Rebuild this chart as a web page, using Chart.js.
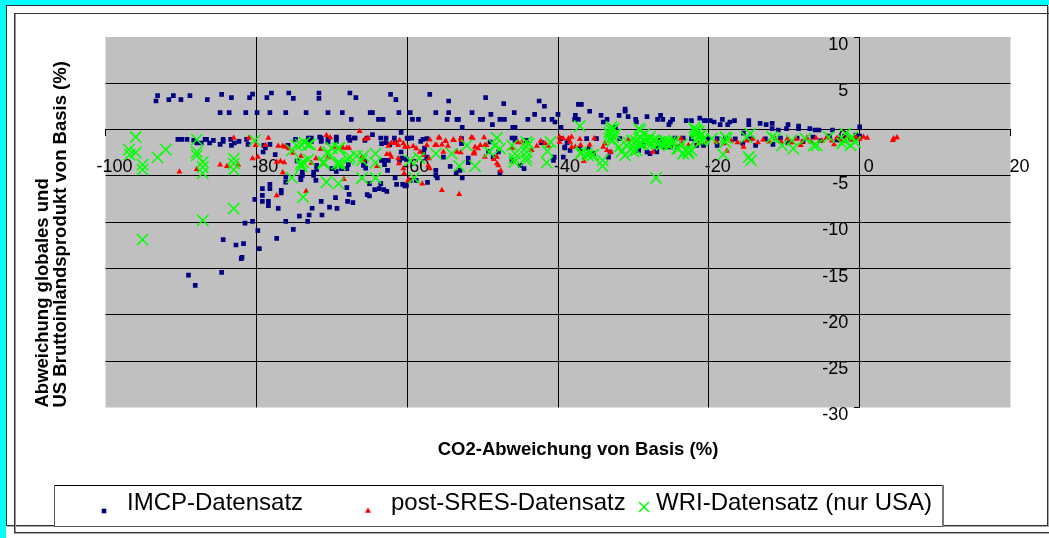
<!DOCTYPE html>
<html lang="de">
<head>
<meta charset="utf-8">
<title>CO2 und BIP</title>
<style>
    html, body { margin: 0; padding: 0; background: #fff; overflow: hidden; }
    #page { position: relative; width: 1049px; height: 538px; overflow: hidden; }
    .strip { position: absolute; background: #00ffff; }
    #frameOuter { position: absolute; left: 6px; top: 5px; width: 1040px; height: 519px; border: 1px solid #333; box-shadow: 1px 1px 0 #aaa; }
    #frameInner { position: absolute; left: 14px; top: 13px; width: 1100px; height: 518px; border: 1px solid #333; box-shadow: inset 1px 0 0 #999, 0 1px 0 #aaa; }
    canvas { position: absolute; left: 0; top: 0; }
</style>
<script src="https://cdn.jsdelivr.net/npm/chart.js@4/dist/chart.umd.js"></script>
</head>
<body>
<div id="page">
    <div class="strip" style="left:0;top:0;width:6px;height:538px"></div>
    <div class="strip" style="left:0;top:0;width:1049px;height:5px"></div>
    <div id="frameOuter"></div>
    <div id="frameInner"></div>
    <canvas id="chart" width="1049" height="538"></canvas>
</div>
<script>
const xTitleText = 'CO2-Abweichung von Basis (%)';
const yTitleLines = ['Abweichung globales und', 'US Bruttoinlandsprodukt von Basis (%)'];
const legendLabels = ['IMCP-Datensatz', 'post-SRES-Datensatz', 'WRI-Datensatz (nur USA)'];

const imcpPoints = [
    [-93.1,3.67],[-93.3,3.09],[-91.6,3.24],[-91,3.67],[-90,3.24],[-88.8,3.67],[-86.5,3.24],[-84.6,3.81],
    [-83.3,3.46],[-80.9,3.46],[-80.5,3.84],[-78.6,3.46],[-78,3.95],[-75.7,3.95],[-75.1,3.38],[-71.7,3.95],
    [-71.7,3.38],[-67.6,3.95],[-66.8,3.46],[-62.2,3.81],[-61.5,3.24],[-57,3.81],[-54.5,3.09],[-49.6,3.46],
    [-84.8,1.84],[-83.6,1.84],[-81.4,1.84],[-79.9,1.84],[-78.2,1.84],[-76.1,1.84],[-73.4,1.84],[-70.5,1.84],
    [-68.6,1.84],[-64.9,1.84],[-64.6,1.84],[-61.1,1.84],[-59.6,1.84],[-56.2,1.84],[-54.5,1.84],[-51.4,1.84],
    [-67.4,1.11],[-63.8,1.11],[-63.2,1.11],[-59.3,1.11],[-58.5,1.11],[-54.7,1.11],[-53.4,1.11],[-53.2,1.11],
    [-50.3,1.11],[-50,1.11],[-52.7,0.25],[-60.8,-0.29],
    [-47.2,2.81],[-42.5,3.09],[-41.8,2.52],[-48.9,1.65],[-45.8,1.84],[-43.1,1.65],[-40,1.65],[-47.7,1.11],
    [-47.1,1.11],[-44,1.11],[-41.9,1.11],[-40.8,1.11],[-40.4,0.82],[-48.7,0.54],[-46,0.25],[-45.7,0.25],[-39.6,0.25],
    [-37.3,2.73],[-36.9,2.73],[-35.8,1.98],[-37.7,1.54],[-37.8,1.11],[-37.3,1.11],[-34.3,1.54],[-31.9,1.54],
    [-31.1,2.22],[-31.1,1.98],[-30.7,1.4],[-33.5,1.11],[-34,0.82],[-32.4,0.25],[-29.7,1.11],[-29.6,0.82],
    [-28.2,1.4],[-26.8,1.11],[-26.4,1.54],[-26.1,1.11],[-24.8,1.11],[-25.3,0.54],[-25.1,0.82],[-23,0.97],
    [-22.3,0.97],[-21.2,1.25],[-20.6,0.97],[-20.3,0.97],[-19.8,0.97],[-19.3,0.82],[-18.2,1.11],[-18.5,0.54],
    [-17.5,0.54],[-17.2,0.82],[-16.6,0.97],[-14.7,0.97],[-14.7,0.54],[-13.2,0.68],[-12.4,0.54],[-11.6,0.68],
    [-11.6,0.11],[-10.8,-0.04],[-9.7,0.11],[-9.5,0.54],[-8.1,0.39],[-8.1,0.11],[-6.6,0.11],[-5.9,-0.04],
    [-5.4,-0.04],[-3.6,-0.04],[0,0.3],[-15.4,-0.37],
    [-81.5,-10.09],[-80.5,-9.9],[-80.2,-7.53],[-79.8,-10.91],[-79.6,-12.85],[-84.4,-11.88],[-82.7,-12.46],
    [-81.7,-12.31],[-82,-13.93],[-81.9,-13.8],[-89,-15.7],[-84.6,-15.41],[-88.1,-16.81],[-79.2,-6.37],
    [-79.2,-7.09],[-79.2,-7.74],[-78.4,-7.74],[-78.4,-8.21],[-78.2,-5.9],[-78.2,-6.37],[-77.1,-8.5],
    [-76.7,-6.55],[-76.7,-6.84],[-77.3,-11.74],[-76.1,-5.12],[-76.1,-5.66],[-76.1,-9.9],[-75.1,-10.77],
    [-74.3,-9.33],[-73.2,-9.9],[-73,-9.22],[-72.6,-8.49],[-71.3,-9.22],[-71.4,-7.74],[-70.3,-8.36],
    [-69.5,-7.34],[-69.3,-8.5],[-74.1,-5.12],[-74.1,-5.4],[-73.9,-4.58],[-73.9,-4.94],[-72.4,-4.58],
    [-72.4,-4.94],[-72.1,-5.48],[-77.5,-2.7],[-79,-1.7],[-78.2,-1.59],
    [-68,-6.26],[-67.7,-6.99],[-67.9,-7.74],[-65.3,-7.02],[-65,-7.17],[-64.3,-6.48],[-63.7,-6.37],[-63.5,-5.83],
    [-65,-5.83],[-63.1,-6.48],[-62.7,-6.66],[-67.2,-7.88],[-61.4,-5.91],[-60.6,-5.91],[-60.1,-6.01],[-61.6,-5.22],
    [-70,-4.21],[-69.6,-4.21],[-68.7,-4.21],[-68,-4.21],[-67.8,-3.78],[-69.4,-4.5],[-65.8,-3.86],[-65.5,-4.15],
    [-65.6,-3.42],[-72,-3.86],[-72,-4.29],[-63.4,-3.32],[-63,-3.32],[-62.5,-3.32],[-63,-3.78],[-62.6,-4.4],
    [-60.7,-3.07],[-61,-3.32],[-60.8,-2.42],[-60.1,-3.21],[-63.4,-1.51],[-62.8,-1.4],[-61.6,-1.4],[-62.3,-1.62],
    [-73.1,-0.9],[-72.7,-0.9],[-73.1,-1.26],[-72.7,-1.26],[-71.4,-0.9],[-71.4,-1.26],[-69.4,-0.9],[-69.4,-1.26],
    [-67.8,-0.9],[-67,-0.9],[-65.3,-0.9],[-64.6,-0.54],[-63.5,-0.9],[-62.8,-0.9],[-61.7,-0.9],[-60,-0.9],[-59.4,-0.9],
    [-65.6,-1.16],[-90.4,-1.05],[-89.9,-1.05],[-89.2,-1.05],[-88.3,-1.15],[-87.9,-1.44],[-87.3,-1.44],[-86.8,-1.05],
    [-86.6,-1.05],[-86.2,-1.44],[-85.7,-1.16],[-84.8,-1.59],[-84.4,-1.05],[-84.4,-1.26],[-83.4,-1.05],[-83.3,-1.7],
    [-82.9,-1.44],[-82.3,-1.26],[-81.3,-1.05],[-81.1,-1.59],[-74.8,-1.05],[-74.6,-3.39],[-71.6,-0.8],[-71.4,-1.16],
    [-70.5,-1.05],[-70.5,-1.33],[-69.4,-0.8],[-67.7,-0.8],[-67.6,-1.16],[-66.9,-0.9],[-79.1,-2.42],[-78.8,-1.98],[-75.8,-1.7],
    [-59.9,-0.97],[-59.4,-0.9],[-58.2,-1.26],[-57.9,-1.05],[-57.4,-0.97],[-57.7,-1.98],[-57.8,-2.42],[-57.4,-2.96],
    [-55.2,-2.96],[-54.3,-3.96],[-53.5,-4.64],[-53,-4.4],[-51.9,-3.07],[-51.9,-3.56],[-56.2,-4.4],[-56.2,-4.94],
    [-56,-5.22],[-57.3,-5.69],[-52.7,-5.22],[-59.6,-5.48],[-58.8,-5.48],[-60.3,-6.09],[-52.8,-1.51],[-52.8,-0.97],
    [-49.2,-2.34],[-48.6,-2.96],[-47.9,-2.42],[-47.7,-4.64],[-49,-1.34],[-46.1,-0.9],[-45.7,-0.9],[-46.1,-3.32],
    [-45,-3.86],[-44.5,-4.21],[-45.7,-1.16],[-44.2,-1.16],[-42.2,-1.4],[-40.6,-3.32],[-40.5,-2.96],[-39.3,-2.96],
    [-39.1,-1.98],[-38.8,-1.4],[-39.6,-0.97],
    [-36.2,-0.97],[-34.9,-0.97],[-39.1,-1.88],[-38.4,-2.24],[-37.1,-2.05],[-36,-2.05],[-35.3,-2.59],[-33.1,-2.42],
    [-33.3,-2.96],[-31.8,-0.97],[-28.2,-2.42],[-28.7,-1.7],[-29.3,-2.24],[-26.9,-2.05],[-26.5,-1.16],[-24.5,-0.9],
    [-23.4,-0.9],[-22.3,-0.97],[-20.1,-0.97],[-18.9,-0.97],[-17.8,-0.97],[-26,-1.88],[-25.1,-1.88],[-27.8,-2.59],
    [-24.2,-1.88],[-21.6,-1.7],[-20.7,-1.7],[-18.9,-1.7],[-26.9,-2.42],
    [-16.5,-1],[-15.5,-1.5],[-14.5,-1],[-13.8,-1.7],[-12.5,-1],[-11.5,-1.6],[-10.5,-0.9],[-9.5,-1.4],[-8.3,-0.9],
    [-7.5,-1.3],[-6.2,-0.8],[-5.2,-1.2],[-4,-0.7],[-3,-1.1],[-2,-0.7],[-1.2,-1],[-0.5,-0.6],[0,-0.7],[-0.3,-0.9]
];

const sresPoints = [
    [-90.2,-4.54],[-87.9,-4.29],[-84.8,-3.78],[-83.9,-3.96],[-82.4,-3.78],[-83,-0.91],[-81,-0.91],[-80.5,-3.13],
    [-79.8,-2.96],[-80.1,-1.7],[-78.4,-0.91],[-78.8,-1.7],[-77.1,-1.77],[-76.5,-1.77],[-76.2,-1.88],[-75.7,-2.05],
    [-75.1,-2.53],[-76.8,-3.42],[-76.3,-3.56],[-77.3,-3.5],[-76.5,-4.64],[-74.1,-2.88],[-72.7,-3.6],[-72.1,-3.13],
    [-73.4,-6.66],[-77.3,-7.1],[-70.7,-0.62],[-70.2,-0.86],[-71.5,-2.13],[-70.5,-3.02],[-71.1,-3.67],[-69.6,-1.88],
    [-68.5,-1.99],[-68,-1.99],[-67.7,-1.99],[-66.3,-0.18],[-65.6,-1.05],[-65.2,-0.91],[-68.4,-5.37],[-66,-2.96],
    [-65.8,-3.32],[-64,-3.96],[-62.5,-1.77],[-62.1,-1.45],[-61.6,-1.45],[-61.2,-1.7],[-61,-1.16],[-60.5,-1.51],
    [-60.3,-1.88],[-59.9,-1.88],[-59.2,-1.8],[-58.8,-2.05],[-58.3,-2.42],[-57.9,-2.78],[-57.4,-1.7],[-62.7,-2.67],
    [-62.3,-2.67],[-62.1,-2.96],[-61.2,-3.13],[-61.1,-3.67],[-60.4,-4.75],[-60.5,-4.21],[-59.9,-5.55],[-59.8,-5.37],
    [-55.4,-6.55],[-53.1,-6.99],[-57,-1.08],[-55.8,-0.86],[-54.9,-1.23],[-53.9,-1.08],[-52.8,-1.16],[-51.5,-0.86],
    [-49.8,-0.86],[-56.1,-1.7],[-53.4,-2.42],[-51.2,-2.53],[-51,-1.88],[-49.7,-1.7],
    [-58,-5.83],[-57.1,-3.13],[-57.2,-3.86],[-57,-4.21],[-56.3,-1.7],[-55.4,-1.62],[-54.6,-1.77],[-55.7,-0.91],
    [-54.9,-1.26],[-53.8,-1.16],[-52.9,-0.97],[-51.3,-0.91],[-55.2,-2.42],[-52.9,-2.48],[-51.1,-2.42],[-51.1,-2.6],
    [-50.3,-1.7],[-49.5,-1.7],[-50.6,-2.05],[-49.7,-2.96],[-48.5,-3.21],[-48.1,-2.96],[-48.1,-3.67],[-47.9,-3.86],
    [-47.6,-4.43],[-46.1,-1.98],[-45.3,-1.4],[-44.8,-1.4],[-43.5,-2.24],[-42.8,-1.77],[-42.3,-1.26],[-41.7,-1.51],
    [-41.3,-1.77],[-39.8,-0.8],[-39.3,-0.97],[-38.6,-0.97],[-39.8,-1.34],
    [-38.2,-0.8],[-38.4,-1.34],[-37.1,-1.05],[-38.2,-1.88],[-37.7,-1.88],[-37,-1.7],[-35.8,-1.62],[-35.2,-0.97],
    [-33.8,-1.51],[-34,-1.88],[-33.5,-2.24],[-33,-2.42],[-36.6,-3.42],[-32.6,-0.91],[-30.7,-1.08],[-27.4,-2.42],
    [-23.7,-0.97],[-23.6,-1.51],[-22.7,-1.7],[-21.4,-1.51],[-20.3,-1.34],[-17.6,-2.31],[-15.4,-1.88],
    [4.5,-0.97],[4.95,-0.86],[4.4,-1.16],
    [-19,-1.3],[-18,-1.5],[-17,-1.2],[-16.2,-1.4],[-15,-1.2],[-14.2,-1],[-13.5,-1.4],[-12.8,-1.1],[-12,-1.3],
    [-11.2,-1],[-10.4,-1.3],[-9.6,-1],[-9,-1.4],[-8.4,-1],[-7.6,-1.3],[-7,-0.9],[-6.4,-1.3],[-5.8,-0.9],[-5,-1.2],
    [-4.4,-0.9],[-3.7,-1.2],[-3,-0.9],[-2.4,-1.2],[-1.7,-0.8],[-1,-1.1],[-0.5,-0.8],[0,-1],[0.5,-0.8],[1,-0.9],
    [-3.4,-1.6],[-7.8,-1.7]
];

const wriPoints = [
    [-96,-0.8],[-96.9,-2.16],[-96.8,-2.7],[-96,-2.48],[-95.1,-3.78],[-95.1,-4.32],[-93.1,-2.99],[-92,-2.16],
    [-87.9,-1.08],[-87.9,-2.42],[-87.9,-2.78],[-87.1,-3.5],[-87.1,-4.04],[-87.1,-4.69],[-83,-3.13],[-83,-3.67],
    [-83,-4.32],[-80.2,-1.16],[-95.1,-11.88],[-87.1,-9.8],[-83,-8.53],[-75.3,-2.24],[-73.8,-7.28],[-75.3,-5.18],
    [-70.7,-5.66],[-69.1,-5.83],[-74.1,-1.62],[-73.1,-1.62],[-73.6,-1.4],[-74.1,-3.67],[-74,-3.93],[-73.1,-3.21],
    [-71.1,-3.67],[-70.6,-2.59],[-70,-1.99],[-69,-1.99],[-69,-3.56],[-69.3,-3.67],[-68.9,-3.78],[-67.8,-3.21],
    [-66.7,-2.85],[-65.8,-2.85],[-66,-3.32],[-64.2,-2.59],[-64.2,-3.56],[-66,-5.22],[-64.2,-5.22],
    [-74.7,-1.7],[-72.9,-1.6],[-70.5,-2.42],[-69.2,-2.05],[-73.8,-3.5],[-74,-3.96],[-67.6,-2.96],[-71.1,-3.5],
    [-59.1,-5.22],[-59.6,-3.32],[-58.4,-3.07],[-56.2,-2.59],[-54.1,-2.59],[-53.1,-3.93],[-51,-3.93],[-52.1,-1.7],
    [-49.1,-2.42],[-48.1,-0.91],[-48.4,-1.7],[-47.7,-2.05],[-46.1,-1.7],[-45.7,-2.59],[-45.8,-3.5],[-44.2,-1.34],
    [-44.2,-1.88],[-44.2,-2.42],[-44.2,-2.96],[-43.9,-1.51],[-44.2,-3.32],[-41.5,-3.56],[-41.4,-2.34],[-41,-1.34],
    [-37.1,0.39],[-37,-2.59],[-36,-2.78],[-35.3,-2.7],[-34.1,-3.32],[-34.1,-3.93],[-32.9,0.28],[-32.9,-0.07],
    [-33.1,-0.54],[-32.7,-0.8],[-33.2,-0.97],[-31.9,-1.88],[-31.1,-2.78],[-30,-2.34],[-29.3,0.11],[-29.3,-1.51],
    [-30.2,-1.16],[-29.1,-0.8],[-28.5,-0.43],[-28,-1.16],[-27.4,-1.16],[-26.5,-1.34],[-25.6,-1.51],[-25.1,-1.34],
    [-24.2,-2.05],[-23.1,-2.24],[-22.7,-2.59],[-22.3,-2.24],[-21.8,-0.07],[-21.6,-0.43],[-21.4,-0.8],[-21.8,-1.16],
    [-20.7,-0.97],[-19.6,-0.97],[-18.1,-2.7],[-17.8,-0.8],[-27,-5.22],
    [-14.7,-2.96],[-14.4,-3.32],[-17.6,-0.97],[-17.8,-1.34],[-15,-0.8],[-14.5,-0.43],[-11.6,-0.8],[-11.2,-0.97],
    [-10.3,-1.7],[-8.8,-2.05],[-9,-1.16],[-7.2,-0.97],[-6.1,-1.7],[-5.7,-1.7],[-4.1,-0.8],[-2.1,-1.16],[-1.9,-0.43],
    [-1,-0.8],[-0.6,-1.34],[-1.2,-1.7],[-2.3,-1.51],
    [-45.8,-3.13],[-36.9,-2.42],[-36.2,-2.59],[-35.5,-2.78],[-30.9,-1.7],[-29.6,-2.24],[-29.1,-0.07],[-28.7,-1.16],
    [-27.8,-0.8],[-27.1,-1.16],[-25.6,-1.34],[-24.9,-1.51],[-24,-2.05],[-22.7,-2.42],[-21.6,-0.07],
    [-32.6,0.1],[-33.2,-0.3],[-32.4,-0.5],[-32.8,-1.2],[-21.9,0.2],[-21.3,-0.2],[-21,-0.6],[-21.5,-1],[-20.9,-1.2],
    [-30.6,-1.4],[-29.7,-1.2],[-28.9,-1.5],[-28.2,-1.4],[-27.6,-1.6],[-26.9,-1.5],[-26.2,-1.6],[-25.9,-1.2],
    [-25.3,-1.7],[-24.6,-1.3],[-23.6,-1.6],[-30.4,-2.1],[-31.6,-2.4],[-23.4,-2.6],[-22.9,-2.2]
];

const toXY = (p) => ({ x: p[0], y: p[1] });

// grey plot background, behind the grid
const plotBackground = {
    id: 'plotBackground',
    // the x title is not centred on the plot in the original
    afterLayout(chart) {
        chart.scales.xTitleAxis.left += 40;
    },
    beforeDraw(chart) {
        const a = chart.chartArea;
        chart.ctx.save();
        chart.ctx.fillStyle = '#c0c0c0';
        chart.ctx.fillRect(a.left, a.top, a.right - a.left, a.bottom - a.top);
        chart.ctx.restore();
    }
};

// the legend columns in the original are not evenly spaced, so it is drawn here
const legendBox = {
    id: 'legendBox',
    afterDraw(chart) {
        const ctx = chart.ctx;
        ctx.save();
        ctx.fillStyle = '#fff';
        ctx.fillRect(54, 485, 890, 42);
        ctx.fillStyle = '#000';
        ctx.fillRect(54, 485, 890, 1);
        ctx.fillStyle = '#555';
        ctx.fillRect(54, 485, 1, 42);
        ctx.fillRect(54, 526, 890, 1);
        ctx.fillStyle = '#777';
        ctx.fillRect(942, 485, 2, 42);

        const textX = [127, 391, 656];
        const markerX = [104, 368, 644];
        const markerY = [511, 511, 507];
        ctx.font = '24px "Liberation Sans", Arial, sans-serif';
        ctx.textBaseline = 'middle';
        chart.data.datasets.forEach((ds, i) => {
            ctx.fillStyle = '#000';
            ctx.fillText(ds.label, textX[i], 503);
            ctx.fillStyle = ds.pointBackgroundColor;
            ctx.strokeStyle = ds.pointBorderColor;
            ctx.lineWidth = ds.pointBorderWidth;
            Chart.helpers.drawPoint(ctx, {
                pointStyle: ds.pointStyle,
                radius: Math.min(ds.pointRadius, 7),
                borderWidth: ds.pointBorderWidth,
                rotation: 0
            }, markerX[i], markerY[i]);
        });
        ctx.restore();
    }
};

const gridColor = (lo, hi) => (c) => (c.tick.value <= lo || c.tick.value >= hi) ? 'rgba(0,0,0,0)' : '#000';
const noSize = (s) => { if (s.isHorizontal()) { s.height = 0; } else { s.width = 0; } };
const tickFont = { family: '"Liberation Sans", Arial, sans-serif', size: 18 };
const titleFont = { family: '"Liberation Sans", Arial, sans-serif', size: 18.5, weight: 'bold', lineHeight: '18px' };

new Chart(document.getElementById('chart'), {
    type: 'scatter',
    data: {
        datasets: [
            {
                label: legendLabels[0],
                data: imcpPoints.map(toXY),
                order: 3,
                pointStyle: 'rect',
                pointRadius: 3.3,
                pointBorderWidth: 0,
                pointBackgroundColor: '#000080',
                pointBorderColor: '#000080'
            },
            {
                label: legendLabels[1],
                data: sresPoints.map(toXY),
                order: 2,
                pointStyle: 'triangle',
                pointRadius: 3.5,
                pointBorderWidth: 0,
                pointBackgroundColor: '#ff0000',
                pointBorderColor: '#ff0000'
            },
            {
                label: legendLabels[2],
                data: wriPoints.map(toXY),
                order: 1,
                pointStyle: 'crossRot',
                pointRadius: 8,
                pointBorderWidth: 1.5,
                pointBackgroundColor: '#00ff00',
                pointBorderColor: '#00ff00'
            }
        ]
    },
    options: {
        responsive: false,
        animation: false,
        layout: { padding: { left: 0, top: 37, right: 38.5, bottom: 0 } },
        plugins: { legend: { display: false }, tooltip: { enabled: false } },
        scales: {
            x: {
                type: 'linear',
                min: -100,
                max: 20,
                position: { y: 0 },
                afterFit: noSize,
                border: { color: '#000', width: 1 },
                grid: { color: gridColor(-100, 20), tickColor: '#000', tickLength: 6 },
                ticks: {
                    stepSize: 20,
                    autoSkip: false,
                    maxRotation: 0,
                    padding: 21,
                    labelOffset: 9,
                    color: '#000',
                    font: tickFont
                }
            },
            y: {
                type: 'linear',
                min: -30,
                max: 10,
                position: { x: -1.5 },
                afterFit: noSize,
                border: { display: false },
                grid: { color: gridColor(-30, 10), drawTicks: false },
                ticks: { stepSize: 5, autoSkip: false, labelOffset: 8, color: '#000', font: tickFont }
            },
            // the vertical axis line itself sits at x = 0
            yAxis: {
                type: 'linear',
                axis: 'y',
                min: -30,
                max: 10,
                position: { x: 0 },
                afterFit: noSize,
                border: { color: '#000', width: 1 },
                grid: { drawOnChartArea: false, tickColor: '#000', tickLength: 5 },
                ticks: { stepSize: 5, autoSkip: false, display: false }
            },
            xTitleAxis: {
                type: 'linear',
                axis: 'x',
                min: -100,
                max: 20,
                position: 'bottom',
                afterFit: (s) => { s.height = 130.5; },
                border: { display: false },
                grid: { display: false },
                ticks: { display: false },
                title: { display: true, text: xTitleText, color: '#000', font: titleFont, padding: { top: 0, bottom: 79 } }
            },
            yTitleAxis: {
                type: 'linear',
                axis: 'y',
                min: -30,
                max: 10,
                position: 'left',
                afterFit: (s) => { s.width = 105.5; },
                border: { display: false },
                grid: { display: false },
                ticks: { display: false },
                title: { display: true, text: yTitleLines, align: 'start', color: '#000', font: titleFont, padding: { top: 34, bottom: 0 } }
            }
        }
    },
    plugins: [plotBackground, legendBox]
});
</script>
</body>
</html>
